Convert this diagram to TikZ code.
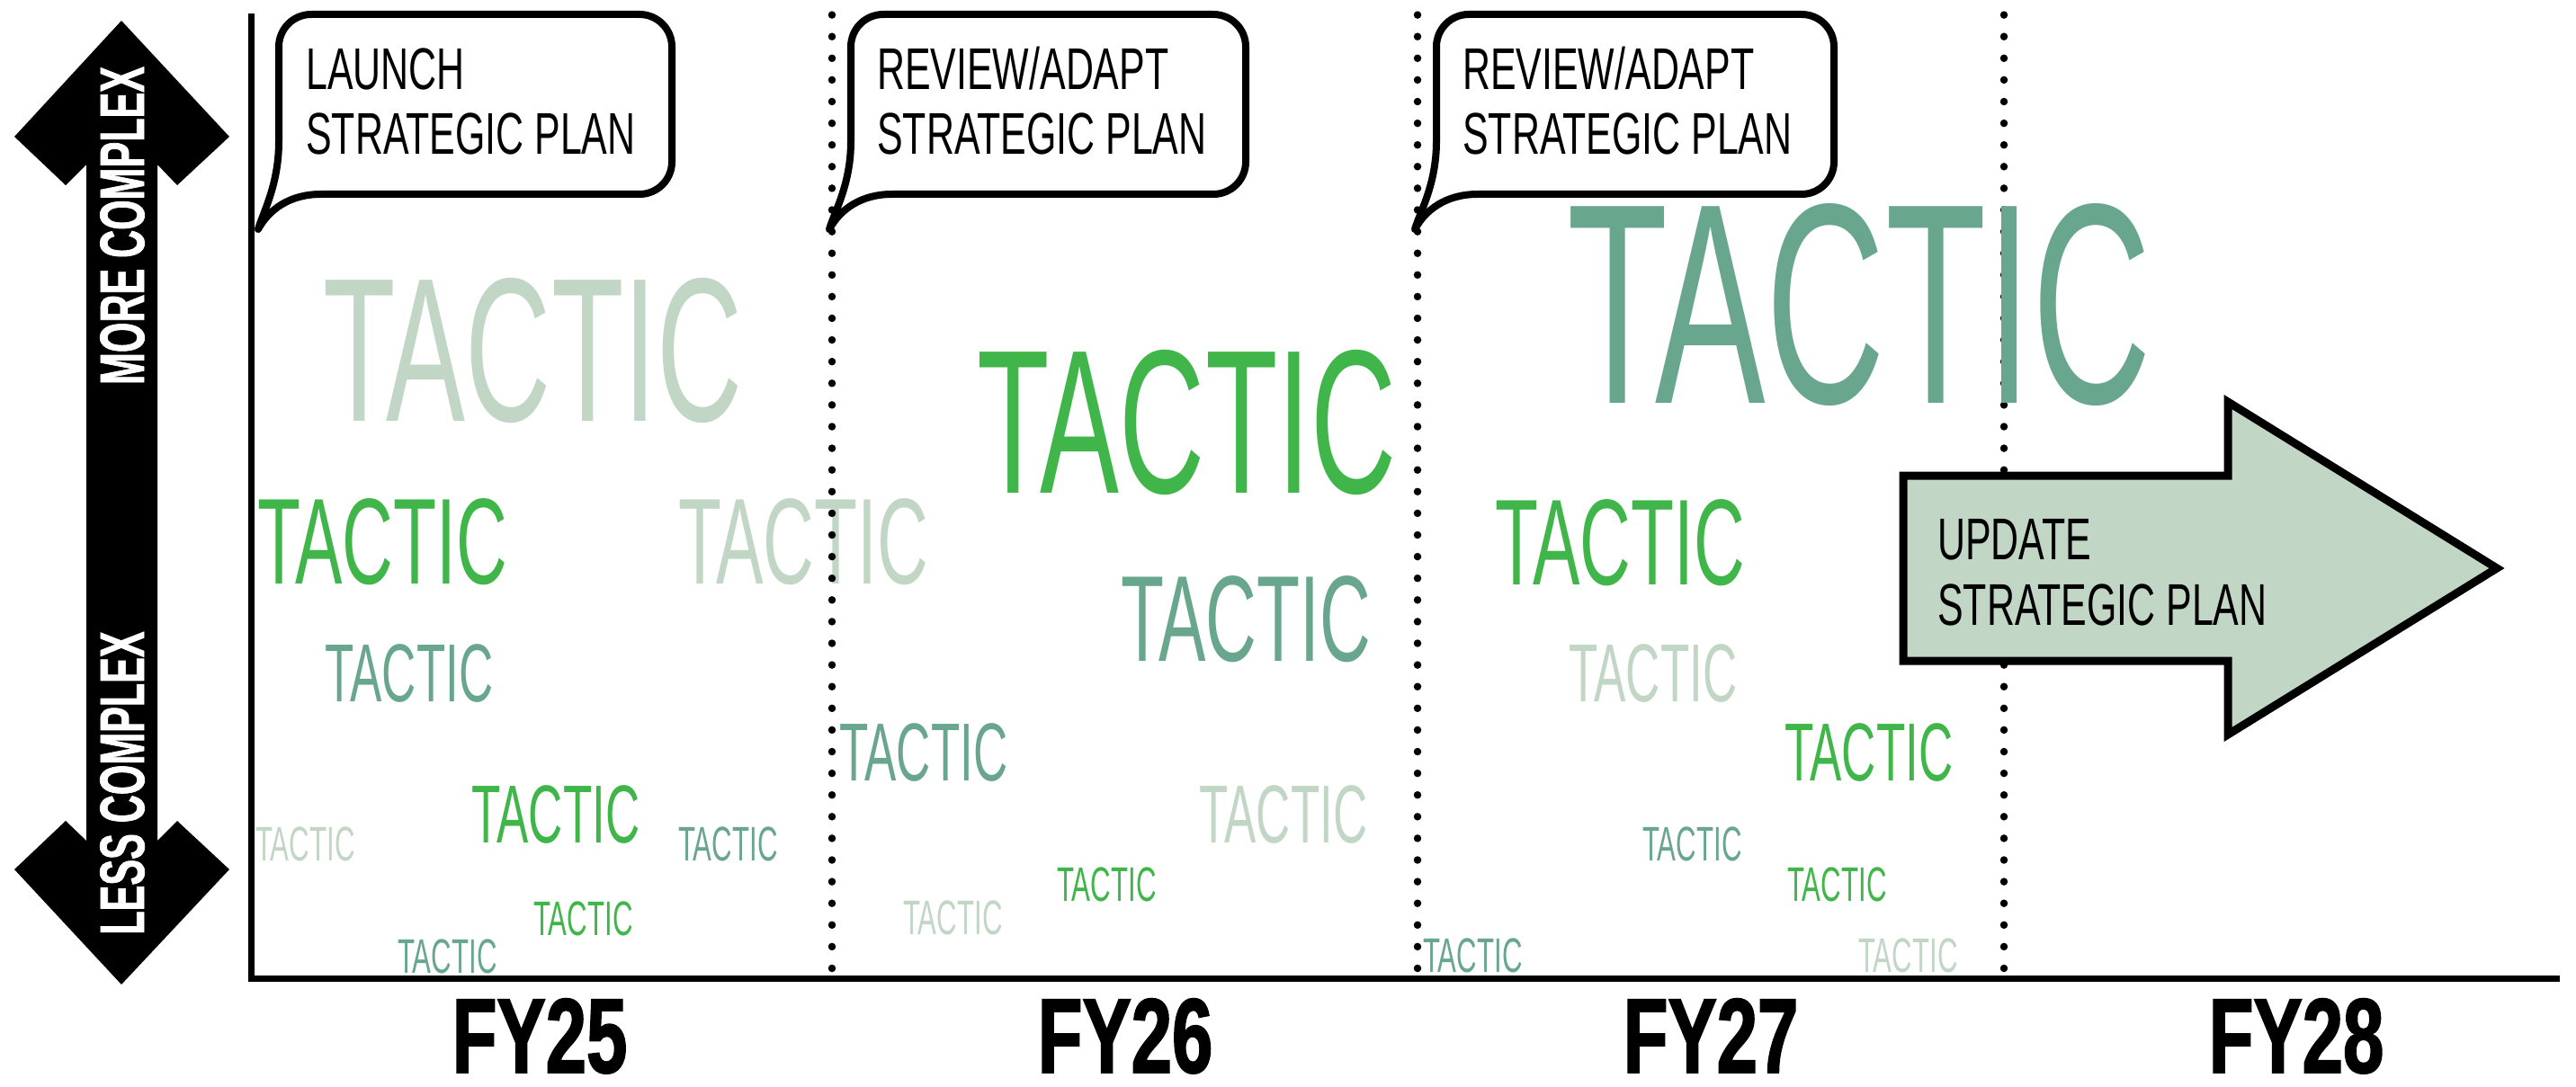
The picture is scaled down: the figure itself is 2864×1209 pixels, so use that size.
\documentclass[tikz,border=0pt]{standalone}
\usepackage{fontspec}
\newfontfamily\tacfont{Liberation Sans}[FakeStretch=0.578]
\newfontfamily\labfont{Liberation Sans}[FakeStretch=0.655]
\newfontfamily\fyfont{Liberation Sans}[FakeStretch=0.69,FakeBold=1.5]
\newfontfamily\cxfont{Liberation Sans}[FakeStretch=0.615,FakeBold=1]
\definecolor{lightg}{HTML}{C1D6C5}
\definecolor{medg}{HTML}{68A68E}
\definecolor{brightg}{HTML}{40B64A}
\begin{document}
\begin{tikzpicture}[x=1pt,y=-1pt,
  tac/.style 2 args={anchor=base west, inner sep=0pt, text=#1, font={\tacfont\fontsize{#2}{#2}\selectfont}},
  lab/.style={anchor=base west, inner sep=0pt, font={\labfont\fontsize{65.5}{65.5}\selectfont}},
  fy/.style={anchor=base, inner sep=0pt, font={\fyfont\bfseries\fontsize{118}{118}\selectfont}},
  cx/.style={rotate=90, inner sep=0pt, text=white, font={\cxfont\bfseries\fontsize{70}{70}\selectfont}},
  axisline/.style={line width=7pt, line join=miter},
  dots/.style={line width=8.5pt, line cap=round, dash pattern=on 0pt off 24.1pt},
  callout/.style={line width=8pt, line join=round, fill=white},
  bigarrow/.style={line width=9pt, fill=lightg, line join=miter}
]
\useasboundingbox (0,0) rectangle (2864,1209);

% double arrow
\fill (135,23) -- (255,152) -- (197,206) -- (175,183) -- (175,935) -- (197,913)
  -- (255,967) -- (135,1095) -- (16,967) -- (73,913) -- (96,935) -- (96,183)
  -- (73,206) -- (16,152) -- cycle;
\node[cx] (more) at (136,251) {MORE COMPLEX};
\node[cx] (less) at (136,871) {LESS COMPLEX};

% tactics FY25
\node[tac={lightg}{228}]  (t1) at (359,468) {TACTIC};
\node[tac={brightg}{136}] (t2) at (286,649) {TACTIC};
\node[tac={lightg}{136}]  (t3) at (754,649) {TACTIC};
\node[tac={medg}{91.5}]   (t4) at (361,780) {TACTIC};
\node[tac={brightg}{91.5}] (t5) at (524,937) {TACTIC};
\node[tac={lightg}{54}]   (t6) at (284,957) {TACTIC};
\node[tac={medg}{54}]     (t7) at (754,957) {TACTIC};
\node[tac={brightg}{54}]  (t8) at (593,1040) {TACTIC};
\node[tac={medg}{54}]     (t9) at (442,1082) {TACTIC};
% tactics FY26
\node[tac={brightg}{228}] (t10) at (1086,548) {TACTIC};
\node[tac={medg}{136}]    (t11) at (1246,735) {TACTIC};
\node[tac={medg}{91.5}]   (t12) at (933,868) {TACTIC};
\node[tac={lightg}{91.5}] (t13) at (1333,937) {TACTIC};
\node[tac={brightg}{54}]  (t14) at (1175,1002) {TACTIC};
\node[tac={lightg}{54}]   (t15) at (1004,1039) {TACTIC};
% tactics FY27
\node[tac={brightg}{136}] (t17) at (1662,650) {TACTIC};
\node[tac={lightg}{91.5}] (t18) at (1744,780) {TACTIC};
\node[tac={brightg}{91.5}] (t19) at (1984,868) {TACTIC};
\node[tac={medg}{54}]     (t20) at (1826,957) {TACTIC};
\node[tac={brightg}{54}]  (t21) at (1987,1002) {TACTIC};
\node[tac={medg}{54}]     (t22) at (1582,1081) {TACTIC};
\node[tac={lightg}{54}]   (t23) at (2066,1081) {TACTIC};

% dotted dividers
\draw[dots] (925,1077) -- (925,15);
\draw[dots] (1576,1077) -- (1576,15);
\draw[dots] (2228,1077) -- (2228,15);

\node[tac={medg}{318}] (t16) at (1742,448) {TACTIC};

% axes
\draw[axisline] (279,15) -- (279,1088) -- (2846,1088);

% callouts
\draw[callout] (310,157) .. controls (310,205) and (293,235) .. (287,255)
  .. controls (299,233) and (322,216) .. (357,216)
  [rounded corners=36pt] -- (747,216) -- (747,16) -- (310,16) -- (310,157);
\node[lab] (c1a) at (340,100) {LAUNCH};
\node[lab] (c1b) at (340,172) {STRATEGIC PLAN};

\draw[callout] (946,157) .. controls (946,205) and (928,235) .. (922,255)
  .. controls (934,233) and (957,216) .. (992,216)
  [rounded corners=36pt] -- (1385,216) -- (1385,16) -- (946,16) -- (946,157);
\node[lab] (c2a) at (975,100) {REVIEW/ADAPT};
\node[lab] (c2b) at (975,172) {STRATEGIC PLAN};

\draw[callout] (1597,157) .. controls (1597,205) and (1579,235) .. (1573,255)
  .. controls (1585,233) and (1608,216) .. (1643,216)
  [rounded corners=36pt] -- (2039,216) -- (2039,16) -- (1597,16) -- (1597,157);
\node[lab] (c3a) at (1626,100) {REVIEW/ADAPT};
\node[lab] (c3b) at (1626,172) {STRATEGIC PLAN};

% big arrow
\draw[bigarrow] (2116,529) -- (2477,529) -- (2477,447) -- (2776,632)
  -- (2477,817) -- (2477,735) -- (2116,735) -- cycle;
\node[lab] (u1) at (2154,622) {UPDATE};
\node[lab] (u2) at (2154,695) {STRATEGIC PLAN};

% FY labels
\node[fy] (fy25) at (600,1193) {FY25};
\node[fy] (fy26) at (1251,1193) {FY26};
\node[fy] (fy27) at (1902,1193) {FY27};
\node[fy] (fy28) at (2553,1193) {FY28};
\end{tikzpicture}
\end{document}
